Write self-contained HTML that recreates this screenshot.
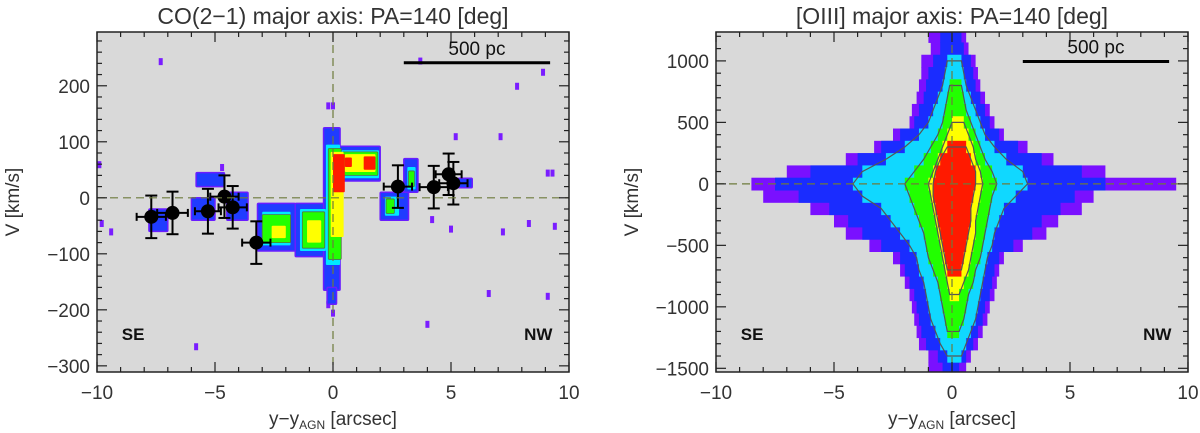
<!DOCTYPE html>
<html><head><meta charset="utf-8"><style>
html,body{margin:0;padding:0;background:#fff;}
svg{display:block;font-family:"Liberation Sans",sans-serif;}
</style></head><body>
<svg id="fig" width="1200" height="433" viewBox="0 0 1200 433"></svg>
<script>
// ---------- CO(2-1) data ----------
// blobs: [x1, x2, v1, v2, level]  level 0=blue,1=cyan,2=green,3=yellow,4=red
const coBlobs = [
 [-3.2,-1.6,-95,-10,0],[-1.6,-0.2,-105,-10,0],[-0.4,0.3,-165,125,0],[0.3,2.0,30,92,0],
 [2.0,3.2,-40,10,0],[3.0,3.6,10,70,0],[-5.8,-4.6,20,45,0],[-6.0,-5.0,-40,0,0],
 [-4.5,-3.6,-40,10,0],[-7.8,-7.0,-60,-20,0],[5.3,5.9,18,35,0],[-0.25,0.15,-190,-160,0],
 [-3.0,-1.8,-85,-25,1],[-1.4,-0.3,-95,-20,1],[-0.3,0.3,-120,95,1],[0.35,1.95,35,85,1],[2.2,2.8,-32,2,1],[3.15,3.5,15,55,1],
 [-3.0,-1.8,-80,-30,2],[-1.3,-0.35,-90,-25,2],[-0.2,0.35,-110,88,2],[0.4,1.9,40,82,2],[2.25,2.6,-28,-2,2],[3.2,3.45,20,48,2],
 [-2.6,-2.0,-72,-50,3],[-1.1,-0.5,-80,-40,3],[-0.1,0.45,-70,82,3],[0.5,1.8,46,78,3],
 [0.0,0.5,10,78,4],[0.5,0.8,55,72,4],[1.3,1.8,50,74,4]
];
const coScatterX = [-7.3,7.8,8.9,9.1,9.3,5.2,7.1,-0.2,0.0,-4.7,3.7,-9.9,-9.8,4.2,6.6,9.1,-5.8,-0.2,0.0,-2.1,4.0,8.3,9.4,-9.4,5.0,7.2];
const coScatterV = [244,200,225,45,45,110,110,165,165,55,245,60,-45,-38,-170,-175,-265,-190,-205,-30,-225,-45,-50,-60,-55,-60];
// points: x, v, xerr, verr
const ptX = [-7.7,-6.8,-5.3,-4.6,-4.25,-3.25,2.75,4.27,4.9,5.1];
const ptV = [-34,-27,-24,2,-17,-80,20,19,42,26];
const ptXerr = [0.62,0.65,0.55,0.6,0.6,0.6,0.6,0.6,0.55,0.6];
const ptVerr = [38,38,40,38,38,38,38,38,37,38];

// ---------- [OIII] data ----------
const oVel = [1200,1100,1000,900,800,700,600,500,400,300,200,100,0,-100,-200,-300,-400,-500,-600,-700,-800,-900,-1000,-1100,-1200,-1300,-1400,-1500];
const oL0 = [[-1.0,0.6],[-0.9,0.7],[-1.3,1.0],[-1.3,1.1],[-1.4,1.2],[-1.5,1.4],[-1.7,1.6],[-1.8,1.8],[-2.5,2.2],[-3.3,3.2],[-4.5,4.3],[-7,6.5],[-8.5,9.5],[-8,6],[-6,5.5],[-5,4.5],[-4.5,4],[-3.5,3],[-2.5,2.2],[-2.2,2.0],[-2,1.9],[-1.8,1.8],[-1.7,1.6],[-1.6,1.5],[-1.5,1.3],[-1.4,1.1],[-1.0,0.8],[-1.0,0.6]];
const oLb = [[-0.5,0.4],[-0.5,0.5],[-0.8,0.8],[-1.0,0.9],[-1.1,1.0],[-1.2,1.2],[-1.4,1.4],[-1.6,1.6],[-2.2,2.0],[-3.0,2.8],[-4.0,3.8],[-6,5.5],[-7.5,6.5],[-6.5,5.2],[-5.2,4.6],[-4.4,3.8],[-3.8,3.4],[-3.0,2.6],[-2.2,2.0],[-2.0,1.8],[-1.8,1.7],[-1.6,1.6],[-1.5,1.4],[-1.4,1.3],[-1.3,1.1],[-1.1,0.9],[-0.6,0.6],[-0.4,0.3]];
const oL1 = [null,null,[-0.2,0.4],[-0.3,0.5],[-0.4,0.6],[-0.6,0.8],[-0.8,1.0],[-1.0,1.2],[-1.4,1.4],[-2,1.8],[-2.8,2.3],[-3.8,3.0],[-4.2,3.2],[-3.8,2.7],[-3,2.2],[-2.6,2.0],[-2.2,1.8],[-1.8,1.7],[-1.5,1.5],[-1.4,1.4],[-1.2,1.3],[-1.1,1.2],[-1.0,1.1],[-0.9,1.0],[-0.7,0.8],[-0.5,0.6],[-0.2,0.4],null];
const oL2 = [null,null,null,null,[-0.1,0.4],[-0.2,0.5],[-0.3,0.6],[-0.4,0.8],[-0.6,1.0],[-0.9,1.2],[-1.2,1.4],[-1.6,1.7],[-2,1.9],[-1.8,1.7],[-1.6,1.6],[-1.4,1.5],[-1.2,1.4],[-1.1,1.3],[-1.0,1.2],[-0.8,1.0],[-0.6,0.9],[-0.5,0.7],[-0.4,0.6],[-0.3,0.5],[-0.2,0.3],null,null,null];
const oL3 = [null,null,null,null,null,null,null,[0,0.5],[-0.2,0.7],[-0.4,0.9],[-0.6,1.0],[-0.8,1.2],[-1.0,1.3],[-0.9,1.2],[-0.8,1.1],[-0.7,1.0],[-0.6,1.0],[-0.5,0.9],[-0.4,0.8],[-0.3,0.7],[-0.2,0.5],[-0.1,0.3],null,null,null,null,null,null];
const oL4 = [null,null,null,null,null,null,null,null,null,[-0.2,0.6],[-0.5,0.8],[-0.7,1.0],[-0.8,1.0],[-0.8,0.9],[-0.7,0.8],[-0.6,0.8],[-0.5,0.7],[-0.4,0.6],[-0.3,0.5],[-0.2,0.4],null,null,null,null,null,null,null,null];

const levelColors = ['#1f3cff','#00e8ff','#22ff00','#ffff00','#ff1a00'];
const oColors = ['#7a10ff','#1a2cff','#10d8ff','#22ff00','#ffff00','#ff1a00'];
const NS='http://www.w3.org/2000/svg';
const svg=document.getElementById('fig');
function mk(tag,attrs,parent){const e=document.createElementNS(NS,tag);for(const k in attrs)e.setAttribute(k,attrs[k]);(parent||svg).appendChild(e);return e;}

function panel(P){
  const g=mk('g',{});
  
  
  const xs=v=>P.x0+(v+10)/20*P.w;
  const ys=v=>P.y0+P.h-(v-P.vmin)/(P.vmax-P.vmin)*P.h;
  const bg=mk('rect',{x:P.x0,y:P.y0,width:P.w,height:P.h,fill:'#d9d9d9'},g);
  
  
  const clip=mk('clipPath',{id:'clip-'+P.name},g);
  mk('rect',{x:P.x0,y:P.y0,width:P.w,height:P.h},clip);
  const d=mk('g',{'clip-path':'url(#clip-'+P.name+')'},g);
  P.draw(d,xs,ys);
  const dz1=mk('line',{x1:P.x0,x2:P.x0+P.w,y1:ys(0),y2:ys(0),stroke:'#6d7a3c','stroke-width':1.2,'stroke-dasharray':'8,5'},g);
  
  
  const dz2=mk('line',{x1:xs(0),x2:xs(0),y1:P.y0,y2:P.y0+P.h,stroke:'#6d7a3c','stroke-width':1.2,'stroke-dasharray':'8,5'},g);
  
  
  const sb=mk('line',{x1:xs(3.0),x2:xs(9.2),y1:ys(P.barV),y2:ys(P.barV),stroke:'#000','stroke-width':3},g);
  
  
  const st=mk('text',{x:xs(6.1),y:ys(P.barV)-8,'font-size':19,'text-anchor':'middle',fill:'#111'},g);
  st.textContent='500 pc';
  
  
  const se=mk('text',{x:xs(-8.95),y:P.y0+P.h-32,'font-size':17,'font-weight':'bold',fill:'#111'},g);
  se.textContent='SE';
  
  
  const nw=mk('text',{x:xs(9.3),y:P.y0+P.h-32,'font-size':17,'font-weight':'bold',fill:'#111','text-anchor':'end'},g);
  nw.textContent='NW';
  
  
  const fr=mk('rect',{x:P.x0,y:P.y0,width:P.w,height:P.h,fill:'none',stroke:'#222','stroke-width':1.5},g);
  
  
  for(let v=-10;v<=10;v++){
    const L=(v%5===0)?10:5, x=xs(v);
    mk('line',{x1:x,x2:x,y1:P.y0+P.h,y2:P.y0+P.h-L,stroke:'#222','stroke-width':1.2},g);
    mk('line',{x1:x,x2:x,y1:P.y0,y2:P.y0+L,stroke:'#222','stroke-width':1.2},g);
    if(v%5===0){
      const t=mk('text',{x:x,y:399,'font-size':19,'text-anchor':'middle',fill:'#333'},g);
      t.textContent=(v<0?'\u2212':'')+Math.abs(v);
      
      
    }
  }
  const start=Math.ceil(P.vmin/P.minor)*P.minor;
  for(let v=start;v<=P.vmax;v+=P.minor){
    const L=(v%P.major===0)?10:5, y=ys(v);
    mk('line',{x1:P.x0,x2:P.x0+L,y1:y,y2:y,stroke:'#222','stroke-width':1.2},g);
    mk('line',{x1:P.x0+P.w,x2:P.x0+P.w-L,y1:y,y2:y,stroke:'#222','stroke-width':1.2},g);
    if(v%P.major===0){
      const t=mk('text',{x:P.x0-7,y:y+7,'font-size':19,'text-anchor':'end',fill:'#333'},g);
      t.textContent=(v<0?'\u2212':'')+Math.abs(v);
      
      
    }
  }
  const ti=mk('text',{x:P.x0+P.w/2,y:24,'font-size':23,'text-anchor':'middle',fill:'#333'},g);
  ti.textContent=P.title;
  
  
  const xt=mk('text',{x:P.x0+P.w/2,y:425,'font-size':19,'text-anchor':'middle',fill:'#333'},g);
  xt.innerHTML='y\u2212y<tspan font-size="12" dy="4">AGN</tspan><tspan dy="-4"> [arcsec]</tspan>';
  
  
  const yt=mk('text',{x:0,y:0,'font-size':19,'text-anchor':'middle',fill:'#333',transform:'translate('+(P.x0-P.ylabOff)+','+(P.y0+P.h/2)+') rotate(-90)'},g);
  yt.textContent='V [km/s]';
  
  
}

panel({name:'co-panel',x0:97,y0:32,w:472,h:340,vmin:-311,vmax:296,major:100,minor:20,barV:241,ylabOff:78,
  title:'CO(2\u22121) major axis: PA=140 [deg]',
  draw:(g,xs,ys)=>{
    for(let i=0;i<coScatterX.length;i++){
      const r=mk('rect',{x:xs(coScatterX[i])-2,y:ys(coScatterV[i])-3,width:4,height:7,fill:'#7a1dff'},g);
      
      
    }
    for(const b of coBlobs){
      const r=mk('rect',{x:xs(b[0]),y:ys(b[3]),width:xs(b[1])-xs(b[0]),height:ys(b[2])-ys(b[3]),fill:levelColors[b[4]],rx:1},g);
      if(b[4]===0){r.setAttribute('stroke','#6a1dff');r.setAttribute('stroke-width','1.5');}
      if(b[4]===2){r.setAttribute('stroke','#557045');r.setAttribute('stroke-width','0.8');}
      
      
    }
    for(let i=0;i<ptX.length;i++){
      const pg=mk('g',{stroke:'#000','stroke-width':2},g);
      
      
      const x=xs(ptX[i]),y=ys(ptV[i]),x1=xs(ptX[i]-ptXerr[i]),x2=xs(ptX[i]+ptXerr[i]),y1=ys(ptV[i]+ptVerr[i]),y2=ys(ptV[i]-ptVerr[i]);
      mk('line',{x1:x1,x2:x2,y1:y,y2:y},pg);
      mk('line',{x1:x,x2:x,y1:y1,y2:y2},pg);
      mk('line',{x1:x-6,x2:x+6,y1:y1,y2:y1},pg);
      mk('line',{x1:x-6,x2:x+6,y1:y2,y2:y2},pg);
      mk('line',{x1:x1,x2:x1,y1:y-4,y2:y+4},pg);
      mk('line',{x1:x2,x2:x2,y1:y-4,y2:y+4},pg);
      mk('circle',{cx:x,cy:y,r:7,fill:'#000',stroke:'none'},pg);
    }
  }});

panel({name:'oiii-panel',x0:716,y0:32,w:472,h:340,vmin:-1530,vmax:1235,major:500,minor:100,barV:995,ylabOff:78,
  title:'[OIII] major axis: PA=140 [deg]',
  draw:(g,xs,ys)=>{
    const levels=[oL0,oLb,oL1,oL2,oL3,oL4];
    levels.forEach((L,k)=>{
      for(let i=0;i<oVel.length;i++){
        const e=L[i]; if(!e) continue;
        const r=mk('rect',{x:xs(e[0]),y:ys(oVel[i]+50),width:xs(e[1])-xs(e[0]),height:ys(oVel[i]-50)-ys(oVel[i]+50)+0.5,fill:oColors[k]},g);
        
        
      }
    });
    [oL1,oL2,oL3,oL4].forEach(L=>{
      const left=[],right=[];
      for(let i=0;i<oVel.length;i++){const e=L[i]; if(!e) continue; left.push(xs(e[0])+','+ys(oVel[i])); right.unshift(xs(e[1])+','+ys(oVel[i]));}
      const p=mk('polygon',{points:left.concat(right).join(' '),fill:'none',stroke:'#555','stroke-width':1.2},g);
      
      
    });
  }});
</script>
</body></html>
